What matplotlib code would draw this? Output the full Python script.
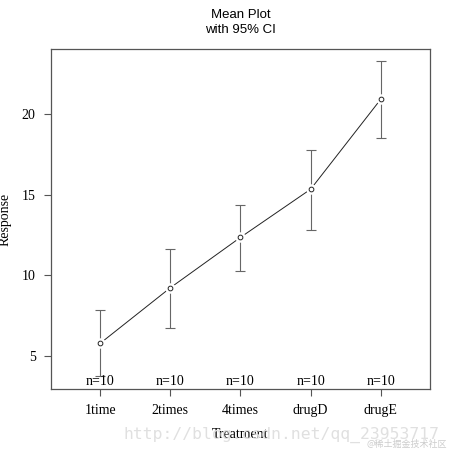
import numpy as np
import matplotlib.pyplot as plt

# data (cholesterol example)
groups = ['1time', '2times', '4times', 'drugD', 'drugE']
means = [5.78, 9.23, 12.36, 15.35, 20.94]
lower = [3.76, 6.76, 10.30, 12.83, 18.52]
upper = [7.86, 11.65, 14.40, 17.80, 23.28]
counts = [10, 10, 10, 10, 10]

serif = ['Liberation Serif', 'DejaVu Serif']
sans = ['Liberation Sans', 'DejaVu Sans']

fig = plt.figure(figsize=(4.54, 4.53), dpi=100)
ax = fig.add_axes([0.1123, 0.1413, 0.8348, 0.7505])

x = np.arange(1, len(groups) + 1)
m = np.array(means)
lo = np.array(lower)
hi = np.array(upper)

# mean line, then CI bars, then white disks to make the gaps, then open circles
ax.plot(x, m, color='#222222', lw=0.7, zorder=2)
ax.errorbar(x, m, yerr=[m - lo, hi - m], fmt='none', ecolor='#666666',
            elinewidth=0.8, capsize=3.3, capthick=0.8, zorder=3)
ax.plot(x, m, 'o', ms=7.5, mfc='white', mec='none', zorder=4)
ax.plot(x, m, 'o', ms=3.4, mfc='white', mec='#222222', mew=0.7, zorder=5)

ax.set_xlim(0.3, 5.7)
ax.set_ylim(2.95, 24.05)
ax.set_xticks(x)
ax.set_xticklabels(groups, family=serif, fontsize=10)
ax.set_yticks([5, 10, 15, 20])
ax.set_yticklabels(['5', '10', '15', '20'], family=serif, fontsize=10)
ax.tick_params(axis='both', direction='out', length=5, width=0.8,
               color='#555555', pad=6)

for s in ax.spines.values():
    s.set_color('#555555')
    s.set_linewidth(0.9)

for xi, n in zip(x, counts):
    ax.text(xi, 3.0, 'n=%d' % n, ha='center', va='bottom',
            family=serif, fontsize=10)

ax.set_xlabel('Treatment', family=serif, fontsize=10, labelpad=8)
ax.set_ylabel('Response', family=serif, fontsize=10, labelpad=14)
ax.yaxis.set_label_coords(-0.105, 0.5)

fig.text(0.53, 0.966, 'Mean Plot', ha='center', va='center',
         family=sans, fontsize=9.5)
fig.text(0.53, 0.933, 'with 95% CI', ha='center', va='center',
         family=sans, fontsize=9.5)

# watermark
fig.text(0.619, 0.04, 'http://blog.csdn.net/qq_23953717', ha='center',
         va='center', family='DejaVu Sans Mono', fontsize=11.8,
         color='#e0e0e0', zorder=0)
fig.text(0.985, 0.018, '@稀土掘金技术社区', ha='right', va='center',
         family=['Noto Sans CJK SC', 'DejaVu Sans'], fontsize=6.5,
         color='#cccccc')

fig.savefig('out.png', dpi=100)
